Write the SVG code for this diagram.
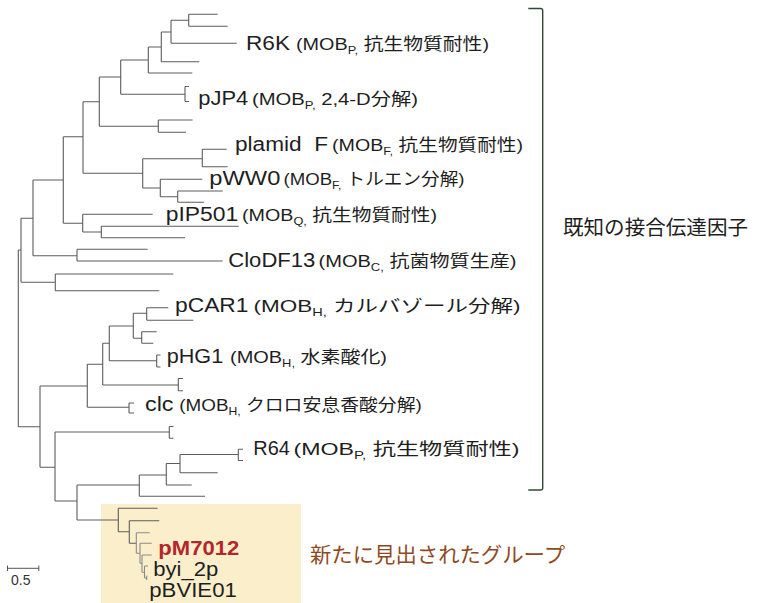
<svg xmlns="http://www.w3.org/2000/svg" width="765" height="603" viewBox="0 0 765 603">
<style>
.b{fill:none;stroke:#5c5c5c;stroke-width:1.1}
.l{fill:none;stroke:#8a8a8a;stroke-width:1.1}
text{font-family:"Liberation Sans","Noto Sans CJK JP",sans-serif;fill:#1e1e1e}
.n{font-size:20px}
.p{font-size:17px}
.s{font-size:11px}
</style>
<rect x="101" y="504" width="200" height="99" fill="#fbefcb"/>
<g id="connectors">
<path class="b" d="M18.3,250V426.7 M18.3,250H21 M18.3,426.7H40
M21,218.3V282.3 M21,218.3H33 M21,282.3H55.3
M33,180V255.7 M33,180H63.3 M33,255.7H77
M63.3,136.7V223.3 M63.3,136.7H83 M63.3,223.3H82.7
M83,101.7V173.3 M83,101.7H99.3 M83,173.3H142.7
M99.3,77V126.3 M99.3,77H120.7 M99.3,126.3H158.3
M120.7,60V94.3 M120.7,60H148.3 M120.7,94.3H185 M185,86.5V101.5 M185,86.5H189 M185,101.5H189
M148.3,47V73 M148.3,47H161.3 M148.3,73H192.3
M161.3,32V61.7 M161.3,32H171 M161.3,61.7H199.3
M171,20.3V43.3 M171,20.3H188.7 M171,43.3H236.7
M188.7,14.3V26.3 M188.7,14.3H217.7 M188.7,26.3H227.7
M158.3,120V132.3 M158.3,120H192.7 M158.3,132.3H186
M142.7,158.7V188 M142.7,158.7H202.3 M142.7,188H160.3
M202.3,149.3V166.7 M202.3,149.3H226.7 M202.3,166.7H227.7
M160.3,179.3V196.7 M160.3,179.3H202.3 M160.3,196.7H177.7
M177.7,191V202.3 M177.7,191H222.7 M177.7,202.3H204
M82.7,214.3V232 M82.7,214.3H152.7 M82.7,232H101.3
M101.3,226.3V237.7 M101.3,226.3H238.7 M101.3,237.7H185
M77,249.3V261 M77,249.3H147.7 M77,261H222.7
M55.3,274V290.7 M55.3,274H173.3 M55.3,290.7H159.3
M40,386V467.3 M40,386H87.3 M40,467.3H55
M87.3,364.3V407.3 M87.3,364.3H102.7 M87.3,407.3H129 M129,403V413 M129,403H134 M129,413H134
M102.7,343.3V385 M102.7,343.3H109.3 M102.7,385H178.3 M178.3,378.5V390.7 M178.3,378.5H183 M178.3,390.7H183
M109.3,326V360.7 M109.3,326H133.3 M109.3,360.7H156.7 M156.7,355V367 M156.7,355H160.5 M156.7,367H160.5
M133.3,313.3V338.3 M133.3,313.3H146.7 M133.3,338.3H141.7
M146.7,307.7V320.3 M146.7,307.7H168.3 M146.7,320.3H193.3
M141.7,331.7V343.3 M141.7,331.7H156.7 M141.7,343.3H153.3
M55,432V501 M55,432H169.3 M169.3,426.5V438.3 M169.3,426.5H173.5 M169.3,438.3H173.5 M55,501H77
M77,485V520 M77,485H139.3 M77,520H118.3
M139.3,475V496.3 M139.3,475H166.3 M139.3,496.3H205
M166.3,463.5V485 M166.3,463.5H180 M166.3,485H191.7
M180,454.5V472.7 M180,454.5H238.3 M238.3,449.3V460.5 M238.3,449.3H243 M238.3,460.5H243 M180,472.7H217.7
M118.3,508.3V531.7 M118.3,508.3H157.5 M118.3,531.7H129.3
M129.3,520.7V543.3 M129.3,520.7H159.3 M129.3,543.3H136.3"/>
<path class="l" d="M136.3,532.7V553.3 M136.3,532.7H149.7 M136.3,553.3H140
M140,543.3V563.3 M140,543.3H151.7 M140,563.3H142
M142,555V572.3 M142,555H151.7 M142,572.3H144.5
M144.5,566V578 M144.5,566H148 M144.5,578H146.7 M146.7,575.5V580"/>
<path d="M7.5,565.5V571 M7.5,568.3H38.8 M38.8,565.5V571" fill="none" stroke="#555" stroke-width="1"/>
<path d="M528.3,8.5H540.7Q542.7,8.5 542.7,10.5V488Q542.7,490 540.7,490H528.3" fill="none" stroke="#2f4a33" stroke-width="1.4"/>
</g>
<g id="R6K"><text class="n" x="246" y="49.5" textLength="44" lengthAdjust="spacingAndGlyphs">R6K</text><text class="p" x="296" y="49.5" textLength="193" lengthAdjust="spacingAndGlyphs">(MOB<tspan class="s" dy="4">P,</tspan><tspan dy="-4"> 抗生物質耐性)</tspan></text></g>
<g id="pJP4"><text class="n" x="198.3" y="105" textLength="50" lengthAdjust="spacingAndGlyphs">pJP4</text><text class="p" x="252" y="105" textLength="166" lengthAdjust="spacingAndGlyphs">(MOB<tspan class="s" dy="4">P,</tspan><tspan dy="-4"> 2,4-D分解)</tspan></text></g>
<g id="plamidF"><text class="n" x="235" y="151" textLength="93" lengthAdjust="spacingAndGlyphs">plamid&#160; F</text><text class="p" x="332" y="151" textLength="191" lengthAdjust="spacingAndGlyphs">(MOB<tspan class="s" dy="4">F,</tspan><tspan dy="-4"> 抗生物質耐性)</tspan></text></g>
<g id="pWW0"><text class="n" x="209.3" y="185" textLength="71" lengthAdjust="spacingAndGlyphs">pWW0</text><text class="p" x="283.5" y="185" textLength="181" lengthAdjust="spacingAndGlyphs">(MOB<tspan class="s" dy="4">F,</tspan><tspan dy="-4"> トルエン分解)</tspan></text></g>
<g id="pIP501"><text class="n" x="165.7" y="221" textLength="72.5" lengthAdjust="spacingAndGlyphs">pIP501</text><text class="p" x="242" y="221" textLength="195" lengthAdjust="spacingAndGlyphs">(MOB<tspan class="s" dy="4">Q,</tspan><tspan dy="-4"> 抗生物質耐性)</tspan></text></g>
<g id="CloDF13"><text class="n" x="228.3" y="267" textLength="87" lengthAdjust="spacingAndGlyphs">CloDF13</text><text class="p" x="318.5" y="267" textLength="198" lengthAdjust="spacingAndGlyphs">(MOB<tspan class="s" dy="4">C,</tspan><tspan dy="-4"> 抗菌物質生産)</tspan></text></g>
<g id="pCAR1"><text class="n" x="175" y="312" textLength="73.5" lengthAdjust="spacingAndGlyphs">pCAR1</text><text class="p" x="253.5" y="312" textLength="267" lengthAdjust="spacingAndGlyphs">(MOB<tspan class="s" dy="4">H,</tspan><tspan dy="-4"> カルバゾール分解)</tspan></text></g>
<g id="pHG1"><text class="n" x="166.7" y="363" textLength="56.5" lengthAdjust="spacingAndGlyphs">pHG1</text><text class="p" x="230" y="363" textLength="157" lengthAdjust="spacingAndGlyphs">(MOB<tspan class="s" dy="4">H,</tspan><tspan dy="-4"> 水素酸化)</tspan></text></g>
<g id="clc"><text class="n" x="145" y="411" textLength="28.5" lengthAdjust="spacingAndGlyphs">clc</text><text class="p" x="179.3" y="411" textLength="242.5" lengthAdjust="spacingAndGlyphs">(MOB<tspan class="s" dy="4">H,</tspan><tspan dy="-4"> クロロ安息香酸分解)</tspan></text></g>
<g id="R64"><text class="n" x="253.3" y="455" textLength="36.5" lengthAdjust="spacingAndGlyphs">R64</text><text class="p" x="293.5" y="455" textLength="226" lengthAdjust="spacingAndGlyphs">(MOB<tspan class="s" dy="4">P,</tspan><tspan dy="-4"> 抗生物質耐性)</tspan></text></g>
<g id="pM7012"><text class="n" x="158.3" y="555" textLength="81" lengthAdjust="spacingAndGlyphs" style="font-weight:bold;fill:#b3262c">pM7012</text></g>
<g id="byi_2p"><text class="n" x="153.3" y="576" textLength="65" lengthAdjust="spacingAndGlyphs">byi_2p</text></g>
<g id="pBVIE01"><text class="n" x="149.3" y="597" textLength="87.5" lengthAdjust="spacingAndGlyphs">pBVIE01</text></g>
<g id="known"><text x="563" y="235" style="font-size:20px" textLength="185" lengthAdjust="spacingAndGlyphs">既知の接合伝達因子</text></g>
<g id="newgroup"><text x="310" y="562" style="font-size:21px;fill:#8e4a1f" textLength="255" lengthAdjust="spacingAndGlyphs">新たに見出されたグループ</text></g>
<g id="scale"><text x="11" y="584.5" style="font-size:14px;fill:#333">0.5</text></g>
</svg>
